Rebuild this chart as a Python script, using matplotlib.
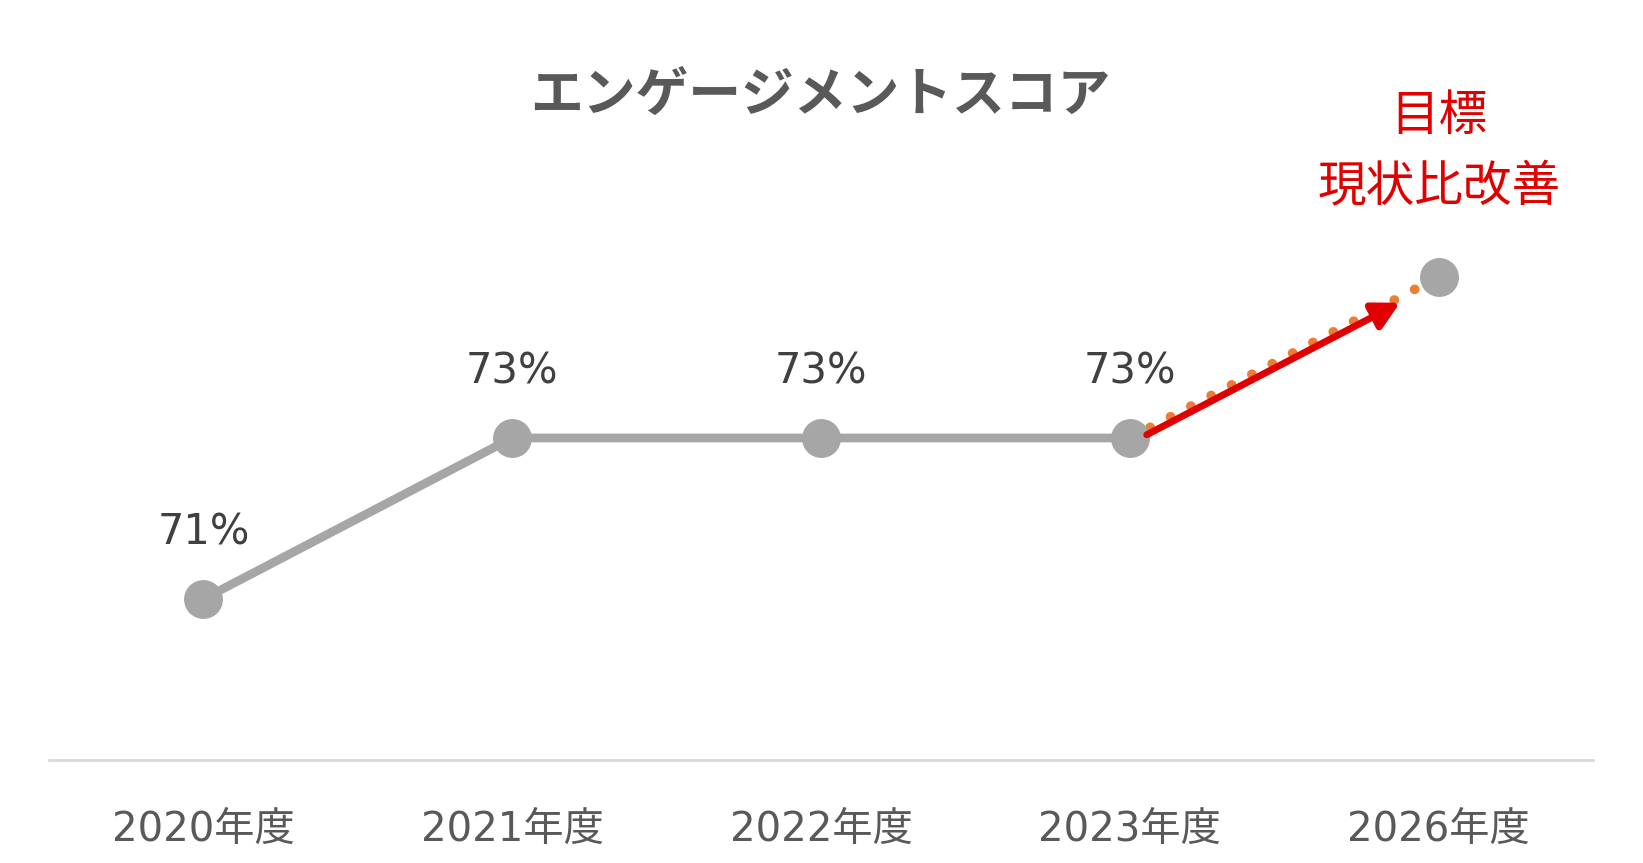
import matplotlib.pyplot as plt

plt.rcParams["font.family"] = ["DejaVu Sans", "Noto Sans CJK JP"]

years = ["2020年度", "2021年度", "2022年度", "2023年度", "2026年度"]
scores = [71, 73, 73, 73, 75]  # last one is the target (no label shown)
labels = ["71%", "73%", "73%", "73%", ""]
title = "エンゲージメントスコア"
target_text = ["目標", "現状比改善"]

GRAY = "#A6A6A6"
TEXT = "#404040"
TICK = "#595959"
RED = "#E00000"
ORANGE = "#ED7D31"

fig = plt.figure(figsize=(16.43, 8.63), dpi=100)
ax = fig.add_axes([49 / 1643, 103 / 863, 1544 / 1643, 760 / 863])
x = list(range(len(years)))

# actual results
ax.plot(x[:4], scores[:4], color=GRAY, lw=6.3, solid_capstyle="round", zorder=2)
# dotted trend to target
ax.plot(x[3:], scores[3:], color=ORANGE, lw=7, linestyle=(0, (0.01, 2.35)),
        dash_capstyle="round", zorder=2)
ax.plot(x, scores, linestyle="none", marker="o", markersize=27,
        color=GRAY, zorder=4)

# red arrow along the trend
f0, f1 = 0.055, 0.875
x0 = x[3] + f0 * (x[4] - x[3])
y0 = scores[3] + f0 * (scores[4] - scores[3]) - 0.07
x1 = x[3] + f1 * (x[4] - x[3])
y1 = scores[3] + f1 * (scores[4] - scores[3]) - 0.07
ax.annotate("", xy=(x1, y1), xytext=(x0, y0),
            arrowprops=dict(arrowstyle="-|>,head_length=1.6,head_width=0.85",
                            color=RED, lw=5, shrinkA=0, shrinkB=0),
            zorder=5)

for xi, yi, lab in zip(x, scores, labels):
    if lab:
        ax.annotate(lab, (xi, yi), xytext=(0, 48), textcoords="offset points",
                    ha="center", va="center", fontsize=30, color=TEXT)

ax.text(x[4], 0.847, target_text[0], transform=ax.get_xaxis_transform(),
        ha="center", va="center", fontsize=35, color=RED,
        family=["Noto Sans CJK JP"])
ax.text(x[4], 0.755, target_text[1], transform=ax.get_xaxis_transform(),
        ha="center", va="center", fontsize=35, color=RED,
        family=["Noto Sans CJK JP"])

fig.text(820 / 1643, 1 - 95 / 863, title, ha="center", va="center",
         fontsize=38, fontweight="bold", color=TICK,
         family=["Noto Sans CJK JP"])

ax.set_xlim(-0.5, 4.5)
ax.set_ylim(69, 78.44)
ax.set_xticks(x)
ax.set_xticklabels(years, fontsize=29, color=TICK)
ax.tick_params(axis="x", length=0, pad=36)
ax.set_yticks([])
for side in ["top", "left", "right"]:
    ax.spines[side].set_visible(False)
ax.spines["bottom"].set_color("#D9D9D9")
ax.spines["bottom"].set_linewidth(2)

fig.savefig("out.png", dpi=100)
